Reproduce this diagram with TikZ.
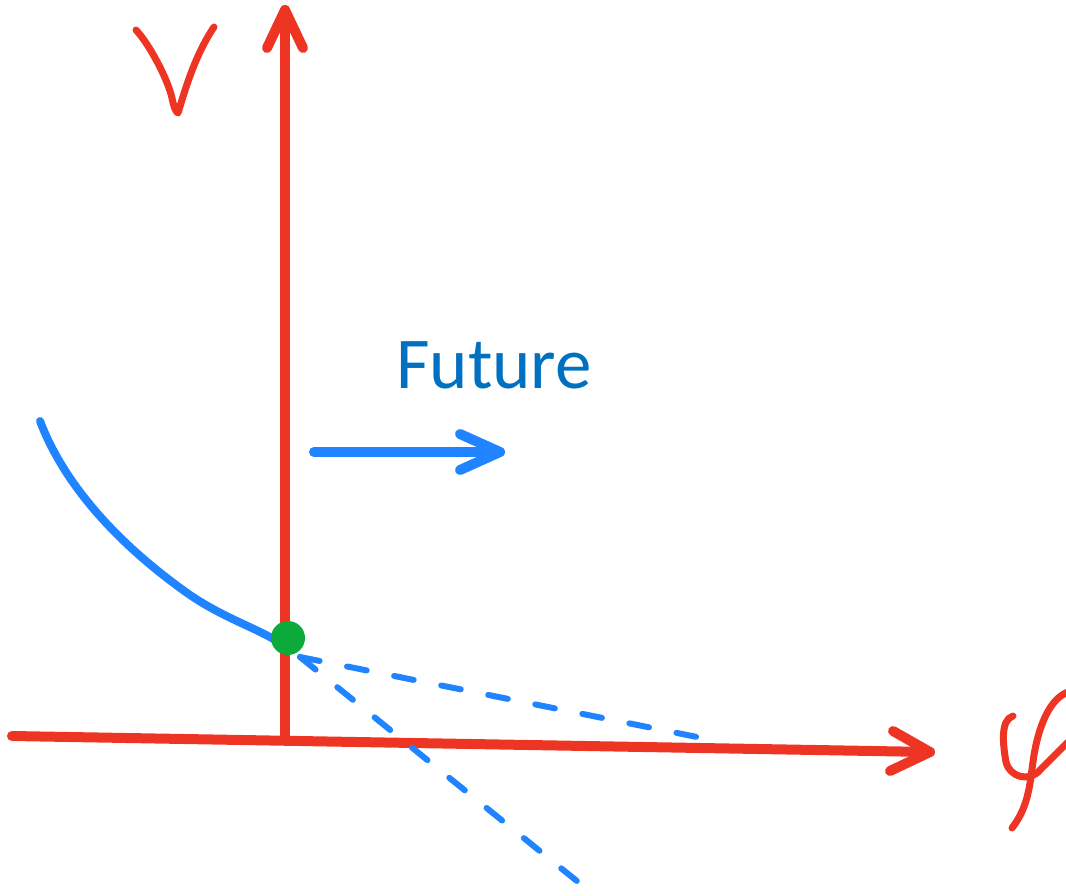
\documentclass[tikz,border=0pt]{standalone}
\usepackage{fontspec}
\newfontfamily\carlito{Carlito}
\definecolor{axred}{HTML}{EE3524}
\definecolor{curveblue}{HTML}{2083FF}
\definecolor{textblue}{HTML}{0070C0}
\definecolor{dotgreen}{HTML}{0BAA3A}
\tikzset{
  axis/.style={draw=axred, line width=10pt, line cap=round, line join=round},
  redink/.style={draw=axred, line width=7pt, line cap=round, line join=round},
  blueink/.style={draw=curveblue, line width=8pt, line cap=round, line join=round},
  bluedash/.style={draw=curveblue, line width=6pt, line cap=round, dash pattern=on 20pt off 28pt},
}
\begin{document}
\begin{tikzpicture}[x=1pt,y=-1pt]
\useasboundingbox (0,0) rectangle (1066,896);
% coordinates
\coordinate (O) at (285,736);
\coordinate (ytip) at (285,10);
\coordinate (xstart) at (12,736);
\coordinate (xtip) at (930,752);
% vertical axis
\draw[axis] (O) -- (ytip);
\draw[axis] (267,48) -- (ytip) -- (303,48);
% horizontal axis
\draw[axis] (xstart) -- (xtip);
\draw[axis] (893,731) -- (xtip) -- (890,771);
% V label
\draw[redink] (136,30) .. controls (150,45) and (168,80) .. (172,98)
  .. controls (174,108) and (176,112) .. (178,113)
  .. controls (185,90) and (195,55) .. (214,27);
% phi label
\draw[redink] (1013,716) .. controls (1000,720) and (1003,745) .. (1006,762)
  .. controls (1010,778) and (1030,782) .. (1040,770)
  .. controls (1050,760) and (1060,750) .. (1068,742);
\draw[redink] (1012,828) .. controls (1030,805) and (1030,780) .. (1034,755)
  .. controls (1040,720) and (1052,698) .. (1068,692);
% blue curve
\draw[blueink] (40,421) .. controls (70,500) and (140,560) .. (190,595)
  .. controls (230,622) and (265,630) .. (290,650);
% dashed continuations
\coordinate (dstart) at (300,657);
\coordinate (dend1) at (702,738);
\coordinate (dend2) at (588,890);
\draw[bluedash] (dstart) -- (dend1);
\draw[bluedash] (dstart) -- (dend2);
% green dot
\fill[dotgreen] (288,638) circle (17pt);
% Future
\node[text=textblue, font=\carlito\fontsize{73}{80}\selectfont, anchor=base west, inner sep=0pt] (future) at (396,388) {Future};
\coordinate (fstart) at (314,452);
\coordinate (ftip) at (500,452);
\draw[blueink, line width=10pt] (fstart) -- (ftip);
\draw[blueink, line width=10pt] (460,434) -- (ftip) -- (460,470);
\end{tikzpicture}
\end{document}
